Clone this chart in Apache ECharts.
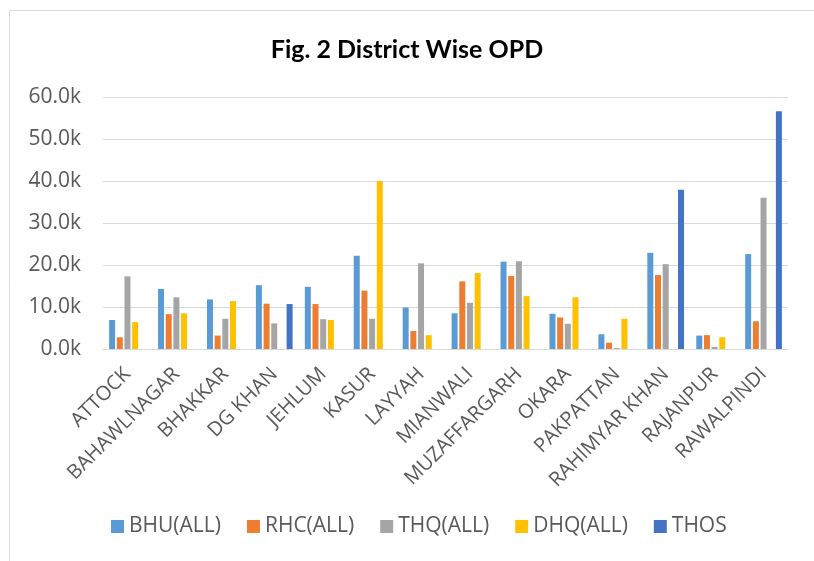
<!DOCTYPE html>
<html>
<head>
<meta charset="utf-8">
<script src="https://cdn.jsdelivr.net/npm/echarts@6/dist/echarts.min.js"></script>
<style>
  html, body { margin: 0; padding: 0; background: #fff; }
  #chart { width: 814px; height: 561px; }
</style>
</head>
<body>
<div id="chart"></div>
<script>
// districts on the x axis
const districts = ['ATTOCK', 'BAHAWLNAGAR', 'BHAKKAR', 'DG KHAN', 'JEHLUM', 'KASUR', 'LAYYAH',
  'MIANWALI', 'MUZAFFARGARH', 'OKARA', 'PAKPATTAN', 'RAHIMYAR KHAN', 'RAJANPUR', 'RAWALPINDI'];

// OPD values
const bhu  = [6900, 14300, 11800, 15200, 14800, 22200, 9900, 8500, 20800, 8400, 3500, 22900, 3200, 22600];
const rhc  = [2800, 8300, 3200, 10800, 10700, 13900, 4300, 16100, 17400, 7500, 1500, 17600, 3300, 6600];
const thq  = [17300, 12300, 7200, 6100, 7100, 7200, 20400, 11000, 20900, 6000, 200, 20200, 500, 36000];
const dhq  = [6400, 8500, 11400, null, 6900, 40000, 3300, 18100, 12600, 12300, 7200, null, 2800, null];
const thos = [null, null, null, 10700, null, null, null, null, null, null, null, 37900, null, 56600];

const seriesNames = ['BHU(ALL)', 'RHC(ALL)', 'THQ(ALL)', 'DHQ(ALL)', 'THOS'];
const seriesColors = ['#5B9BD5', '#ED7D31', '#A5A5A5', '#FFC000', '#4472C4'];
const seriesData = [bhu, rhc, thq, dhq, thos];

const labelFont = 'Open Sans';

const chart = echarts.init(document.getElementById('chart'));

chart.setOption({
  animation: false,
  graphic: [{
    type: 'rect',
    shape: { x: 9.5, y: 10.5, width: 820, height: 560 },
    style: { fill: 'none', stroke: '#d9d9d9', lineWidth: 1 }
  }],
  title: {
    text: 'Fig. 2 District Wise OPD',
    left: 'center',
    top: 32,
    textStyle: { fontFamily: 'Lato', fontWeight: 'bold', fontSize: 25, color: '#000' }
  },
  legend: {
    bottom: 19,
    left: 106,
    itemWidth: 13,
    itemHeight: 13,
    itemGap: 26,
    icon: 'rect',
    textStyle: { fontFamily: labelFont, fontSize: 21, color: '#595959' },
    data: seriesNames
  },
  grid: { left: 103, right: 26, top: 97, bottom: 212 },
  xAxis: {
    type: 'category',
    data: districts,
    axisLine: { lineStyle: { color: '#d9d9d9', width: 1 } },
    axisTick: { show: false },
    axisLabel: { rotate: 45, interval: 0, fontFamily: labelFont, fontSize: 20, color: '#595959', margin: 22 }
  },
  yAxis: {
    type: 'value',
    min: 0,
    max: 60000,
    interval: 10000,
    axisLine: { show: false },
    axisTick: { show: false },
    splitLine: { lineStyle: { color: '#d9d9d9', width: 1 } },
    axisLabel: {
      fontFamily: labelFont,
      fontSize: 21,
      color: '#595959',
      margin: 22,
      formatter: v => (v / 1000).toFixed(1) + 'k'
    }
  },
  series: seriesNames.map((name, i) => ({
    name: name,
    type: 'bar',
    data: seriesData[i],
    barWidth: 6,
    barGap: '28%',
    itemStyle: { color: seriesColors[i] }
  }))
});
</script>
</body>
</html>
